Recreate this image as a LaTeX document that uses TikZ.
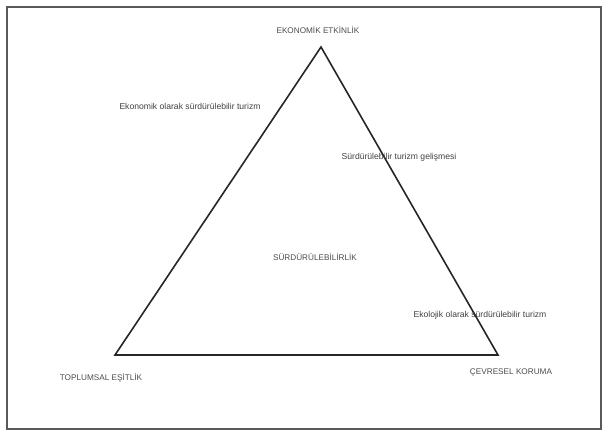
\documentclass[tikz,border=0pt]{standalone}
\usepackage{fontspec}
\setmainfont{Liberation Sans}
\begin{document}
\begin{tikzpicture}[x=1pt,y=-1pt,
  lbl/.style={font=\fontsize{8.6}{10}\selectfont, text=black!75, inner sep=0pt},
  capslbl/.style={font=\fontsize{8.2}{10}\selectfont, text=black!70, inner sep=0pt},
  tri/.style={line width=1.6pt, line join=miter, black!85}]
\useasboundingbox (0,0) rectangle (602,430);
\draw[black!65, line width=1.8pt] (7,7) rectangle (601,429);
\coordinate (A) at (321,47);
\coordinate (B) at (115,355);
\coordinate (C) at (498,355);
\draw[tri] (A) -- (B) -- (C) -- cycle;
\node[capslbl] (ee) at (318,30) {EKONOMİK ETKİNLİK};
\node[lbl] (eo) at (190,106) {Ekonomik olarak sürdürülebilir turizm};
\node[lbl] (sg) at (399,157) {Sürdürülebilir turizm gelişmesi};
\node[capslbl] (su) at (315,257) {SÜRDÜRÜLEBİLİRLİK};
\node[lbl] (ek) at (480,315) {Ekolojik olarak sürdürülebilir turizm};
\node[capslbl] (te) at (101,378) {TOPLUMSAL EŞİTLİK};
\node[capslbl] (ck) at (511,373) {ÇEVRESEL KORUMA};
\end{tikzpicture}
\end{document}
